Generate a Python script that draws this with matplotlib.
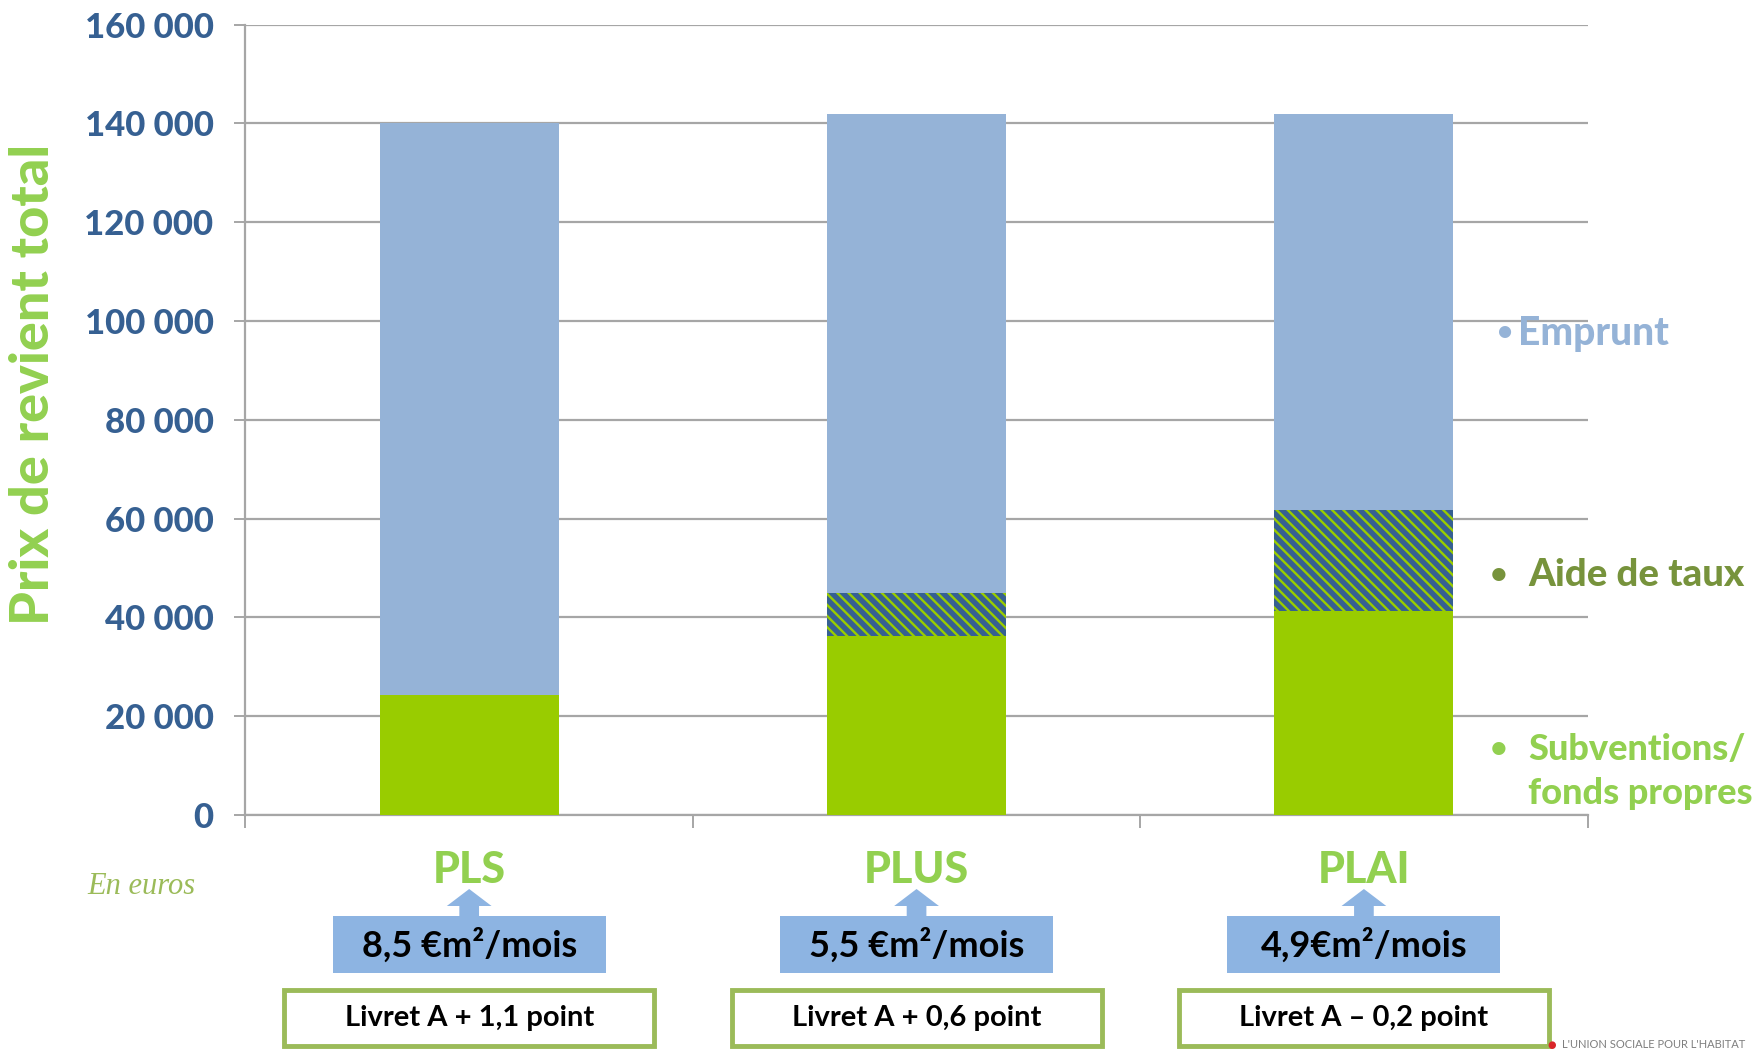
import matplotlib
matplotlib.use("Agg")
import matplotlib.pyplot as plt
from matplotlib.patches import Rectangle, Polygon
from matplotlib.transforms import blended_transform_factory
from matplotlib.ticker import FuncFormatter, FixedLocator

# ---------------- data ----------------
categories = ["PLS", "PLUS", "PLAI"]
subventions = [24300, 36300, 41300]
aide_taux = [0, 8700, 20400]
emprunt = [115700, 97000, 80300]
loyers = ["8,5 €m²/mois", "5,5 €m²/mois", "4,9€m²/mois"]
taux = ["Livret A + 1,1 point", "Livret A + 0,6 point", "Livret A – 0,2 point"]
yticks = [0, 20000, 40000, 60000, 80000, 100000, 120000, 140000, 160000]

# ---------------- style ----------------
plt.rcParams["hatch.linewidth"] = 1.7
FONT = ["Lato", "DejaVu Sans"]
W, H = 1758, 1051
fig = plt.figure(figsize=(W / 100, H / 100), dpi=100)
fig.patch.set_facecolor("white")


def fx(x):
    return x / W


def fy(y):
    return 1 - y / H


ax = fig.add_axes([fx(245.5), fy(815), fx(1587.6) - fx(245.5), fy(24.7) - fy(815)])

C_SUB = "#99CC00"
C_EMP = "#95B3D7"
C_HATCH_BG = "#366092"
GRID = "#A6A6A6"

x = list(range(len(categories)))
width = 0.4
ax.bar(x, subventions, width, color=C_SUB, zorder=3)
ax.bar(x, aide_taux, width, bottom=subventions, facecolor=C_HATCH_BG,
       edgecolor=C_SUB, hatch="\\\\\\", linewidth=0, zorder=3)
bottoms = [s + a for s, a in zip(subventions, aide_taux)]
ax.bar(x, emprunt, width, bottom=bottoms, color=C_EMP, zorder=3)

ax.set_xlim(-0.5, len(categories) - 0.5)
ax.set_ylim(0, 160000)
ax.set_yticks(yticks)
ax.yaxis.set_major_formatter(FuncFormatter(lambda v, p: f"{int(v):,}".replace(",", " ")))
ax.yaxis.grid(True, color=GRID, linewidth=1.6, zorder=0)
ax.set_axisbelow(True)
for s in ["top", "right"]:
    ax.spines[s].set_visible(False)
for s in ["left", "bottom"]:
    ax.spines[s].set_color(GRID)
    ax.spines[s].set_linewidth(1.6)
ax.tick_params(axis="y", length=8, width=1.4, color=GRID, pad=15,
               labelsize=25, labelcolor="#366092")
for lab in ax.get_yticklabels():
    lab.set_fontweight("black")
    lab.set_family(FONT)
ax.set_xticks([])
ax.xaxis.set_minor_locator(FixedLocator([i - 0.5 for i in range(len(categories) + 1)]))
ax.tick_params(axis="x", which="minor", length=9, width=1.4, color=GRID)

# y label
fig.text(fx(34), fy(384), "Prix de revient total", rotation=90, ha="center", va="center",
         color="#92D050", fontsize=39, fontweight="black", family=FONT)

# En euros
fig.text(fx(87), fy(886), "En euros", ha="left", va="center", color="#9BBB59",
         fontsize=22, style="italic", family=["Liberation Serif", "DejaVu Serif"])

trans = blended_transform_factory(ax.transData, fig.transFigure)

for i, cat in enumerate(categories):
    # category label
    fig.text(i, fy(870), cat, transform=trans, ha="center", va="center",
             color="#92D050", fontsize=31, fontweight="black", family=FONT)
    # arrow
    arrow = Polygon([(i - 0.022, fy(917)), (i - 0.022, fy(906)), (i - 0.05, fy(906)),
                     (i, fy(889)), (i + 0.05, fy(906)), (i + 0.022, fy(906)),
                     (i + 0.022, fy(917))], closed=True, transform=trans,
                    facecolor="#8DB4E2", edgecolor="none", clip_on=False)
    fig.add_artist(arrow)
    # blue box
    box = Rectangle((i - 0.305, fy(973)), 0.61, (973 - 916) / H, transform=trans,
                    facecolor="#8DB4E2", edgecolor="none", clip_on=False)
    fig.add_artist(box)
    fig.text(i, fy(945), loyers[i], transform=trans, ha="center", va="center",
             color="black", fontsize=26, fontweight="bold", family=FONT)
    # green box
    gbox = Rectangle((i - 0.413, fy(1046)), 0.827, (1046 - 990) / H, transform=trans,
                     facecolor="white", edgecolor="#9BBB59", linewidth=3.5, clip_on=False)
    fig.add_artist(gbox)
    fig.text(i, fy(1018), taux[i], transform=trans, ha="center", va="center",
             color="black", fontsize=21, fontweight="bold", family=FONT)

# right-side legend texts
fig.text(fx(1505), fy(333), "•", ha="center", va="center", color=C_EMP, fontsize=20,
         fontweight="bold", family=FONT)
fig.text(fx(1518), fy(333), "Emprunt", ha="left", va="center", color=C_EMP, fontsize=28,
         fontweight="black", family=FONT)
fig.text(fx(1499), fy(575), "•", ha="center", va="center", color="#77933C", fontsize=22,
         fontweight="bold", family=FONT)
fig.text(fx(1528), fy(575), "Aide de taux", ha="left", va="center", color="#77933C",
         fontsize=27.5, fontweight="black", family=FONT)
fig.text(fx(1499), fy(749), "•", ha="center", va="center", color="#92D050", fontsize=22,
         fontweight="bold", family=FONT)
fig.text(fx(1528), fy(749), "Subventions/", ha="left", va="center", color="#92D050",
         fontsize=26, fontweight="black", family=FONT)
fig.text(fx(1528), fy(794), "fonds propres", ha="left", va="center", color="#92D050",
         fontsize=26, fontweight="black", family=FONT)

# footer
fig.text(fx(1562), fy(1050), "L'UNION SOCIALE POUR L'HABITAT", ha="left", va="bottom",
         color="#7F7F7F", fontsize=8, family=FONT)
fig.text(fx(1552), fy(1050), "●", ha="center", va="bottom", color="#D9262A", fontsize=7,
         family=["DejaVu Sans"])

fig.savefig("out.png", dpi=100, facecolor="white")
